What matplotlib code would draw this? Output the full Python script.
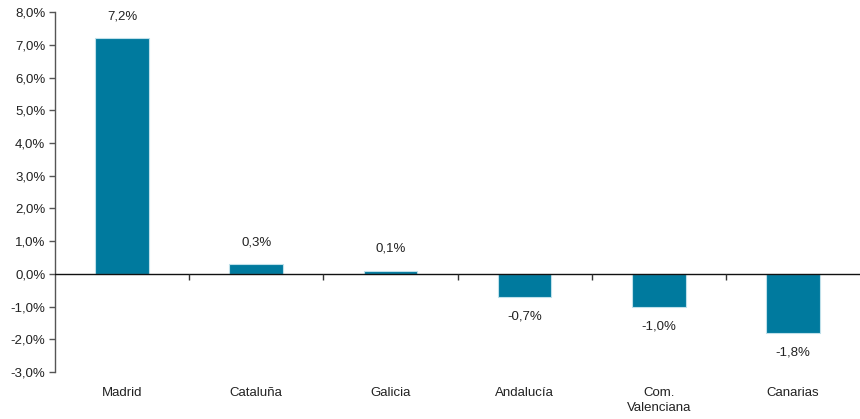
import numpy as np
import matplotlib.pyplot as plt
from matplotlib.ticker import FuncFormatter

plt.rcParams['font.family'] = ['Liberation Sans', 'DejaVu Sans']

# Data
regions = ['Madrid', 'Cataluña', 'Galicia', 'Andalucía', 'Com.\nValenciana', 'Canarias']
values = [7.2, 0.3, 0.1, -0.7, -1.0, -1.8]
bar_color = '#007A9E'

fig = plt.figure(figsize=(8.6, 4.19), dpi=100)
ax = fig.add_axes([0.064, 0.112, 0.936, 0.859])

x = np.arange(len(regions))
ax.bar(x, values, width=0.4, color=bar_color, edgecolor='#bfe0ea', linewidth=0.8, zorder=2)

# value labels
for xi, v in zip(x, values):
    label = f'{v:.1f}%'.replace('.', ',')
    if v >= 0:
        ax.annotate(label, (xi, v), xytext=(0, 11.5), textcoords='offset points',
                    ha='center', va='bottom', fontsize=9.5, color='#222222')
    else:
        ax.annotate(label, (xi, v), xytext=(0, -10), textcoords='offset points',
                    ha='center', va='top', fontsize=9.5, color='#222222')

ax.set_xlim(-0.5, len(regions) - 0.5)
ax.set_ylim(-3, 8)
ax.set_yticks(np.arange(-3, 9, 1))
ax.yaxis.set_major_formatter(FuncFormatter(lambda v, p: f'{v:.1f}%'.replace('.', ',')))

# zero line and category separators
ax.axhline(0, color='#111111', linewidth=1.0, zorder=3)
ax.vlines(x[:-1] + 0.5, -0.2, 0, color='#333333', linewidth=1.0, zorder=3)

ax.set_xticks(x)
ax.set_xticklabels(regions, fontsize=9.5, color='#222222', va='top', linespacing=1.25)
ax.tick_params(axis='x', length=0, pad=11)
ax.tick_params(axis='y', length=4, width=1, color='#555555', labelsize=9.5, labelcolor='#222222', pad=3)

for s in ['top', 'right', 'bottom']:
    ax.spines[s].set_visible(False)
ax.spines['left'].set_color('#555555')
ax.spines['left'].set_linewidth(1.0)

fig.savefig('out.png', dpi=100)
